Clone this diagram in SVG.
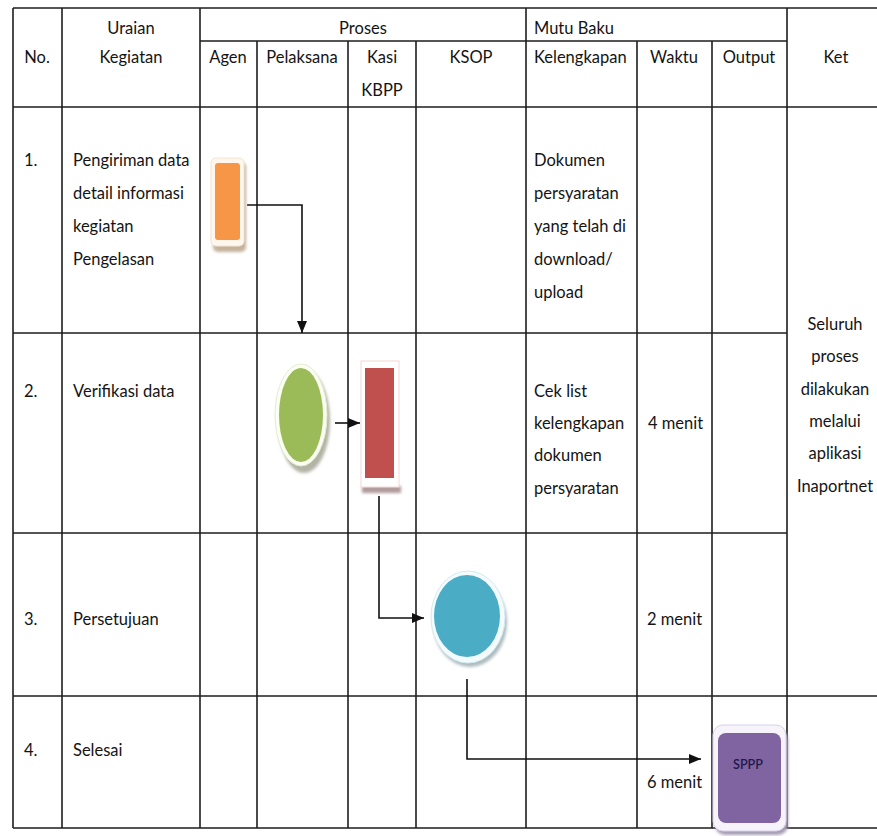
<svg xmlns="http://www.w3.org/2000/svg" width="877" height="836" viewBox="0 0 877 836">
<style>
  .t { font-family: Lato, "Liberation Sans", sans-serif; font-size: 16.5px; fill: #141414; }
  .m { text-anchor: middle; }
  .grid { fill: none; stroke: #1e1e1e; stroke-width: 1.6; }
  .conn { fill: none; stroke: #111; stroke-width: 1.6; }
  .shadow { filter: url(#blur); }
</style>
<defs>
  <filter id="blur" x="-30%" y="-30%" width="160%" height="160%">
    <feGaussianBlur stdDeviation="1.6"/>
  </filter>
  <marker id="arr" markerUnits="userSpaceOnUse" markerWidth="13" markerHeight="10" refX="12" refY="5" orient="auto">
    <path d="M0,0 L12,5 L0,10 z" fill="#111"/>
  </marker>
</defs>
<rect width="877" height="836" fill="#ffffff"/>

<g id="table">
  <path class="grid" d="M13,8 H877 M200,41 H787 M13,107 H877 M13,333 H787 M13,533 H787 M13,696 H877 M13,828 H877
    M13,8 V828 M62,8 V828 M200,8 V828 M257,41 V828 M348,41 V828 M416,41 V828 M526,8 V828 M637,41 V828 M712,41 V828 M787,8 V828"/>
  <g id="header">
    <text class="t m" x="37" y="63">No.</text>
    <text class="t m" x="131" y="34">Uraian</text>
    <text class="t m" x="131" y="63">Kegiatan</text>
    <text class="t m" x="363" y="34">Proses</text>
    <text class="t" x="534" y="34">Mutu Baku</text>
    <text class="t m" x="228" y="63">Agen</text>
    <text class="t m" x="302" y="63">Pelaksana</text>
    <text class="t m" x="382" y="63">Kasi</text>
    <text class="t m" x="382" y="96">KBPP</text>
    <text class="t m" x="471" y="63">KSOP</text>
    <text class="t" x="534" y="63">Kelengkapan</text>
    <text class="t m" x="674" y="63">Waktu</text>
    <text class="t m" x="749" y="63">Output</text>
    <text class="t m" x="836" y="63">Ket</text>
  </g>
  <g id="row1">
    <text class="t" x="24" y="166">1.</text>
    <text class="t" x="73" y="166">Pengiriman data</text>
    <text class="t" x="73" y="199">detail informasi</text>
    <text class="t" x="73" y="232">kegiatan</text>
    <text class="t" x="73" y="265">Pengelasan</text>
    <text class="t" x="534" y="166">Dokumen</text>
    <text class="t" x="534" y="199">persyaratan</text>
    <text class="t" x="534" y="232">yang telah di</text>
    <text class="t" x="534" y="265">download/</text>
    <text class="t" x="534" y="298">upload</text>
  </g>
  <g id="ket">
    <text class="t m" x="835" y="330">Seluruh</text>
    <text class="t m" x="835" y="362">proses</text>
    <text class="t m" x="835" y="395">dilakukan</text>
    <text class="t m" x="835" y="427">melalui</text>
    <text class="t m" x="835" y="459">aplikasi</text>
    <text class="t m" x="835" y="492">Inaportnet</text>
  </g>
  <g id="row2">
    <text class="t" x="24" y="397">2.</text>
    <text class="t" x="73" y="397">Verifikasi data</text>
    <text class="t" x="534" y="397">Cek list</text>
    <text class="t" x="534" y="429">kelengkapan</text>
    <text class="t" x="534" y="461">dokumen</text>
    <text class="t" x="534" y="494">persyaratan</text>
    <text class="t" x="648" y="429">4 menit</text>
  </g>
  <g id="row3">
    <text class="t" x="24" y="625">3.</text>
    <text class="t" x="73" y="625">Persetujuan</text>
    <text class="t" x="647" y="625">2 menit</text>
  </g>
  <g id="row4">
    <text class="t" x="24" y="756">4.</text>
    <text class="t" x="73" y="756">Selesai</text>
    <text class="t" x="647" y="788">6 menit</text>
  </g>
</g>

<g id="connectors">
  <path class="conn" d="M247,205 H302 V333" marker-end="url(#arr)"/>
  <path class="conn" d="M335,423 H360" marker-end="url(#arr)"/>
  <path class="conn" d="M379,496 V618 H424" marker-end="url(#arr)"/>
  <path class="conn" d="M467,679 V759 H701" marker-end="url(#arr)"/>
</g>

<g id="agen-kirim">
  <rect class="shadow" x="213" y="162" width="33" height="90" rx="5" fill="#c4b29c"/>
  <rect x="211" y="158" width="33" height="88" rx="5" fill="#fff7ee" stroke="#f3e4d2"/>
  <rect x="215" y="163" width="25" height="77" rx="3" fill="#F79646"/>
</g>
<g id="pelaksana-verifikasi">
  <ellipse class="shadow" cx="304" cy="421" rx="26" ry="52" fill="#b4b4a6"/>
  <ellipse cx="301" cy="415" rx="26" ry="51" fill="#fbfff2" stroke="#e2ecd0"/>
  <ellipse cx="301" cy="415" rx="22" ry="47" fill="#9BBB59"/>
</g>
<g id="kasi-cek">
  <rect class="shadow" x="362" y="486" width="39" height="7" fill="#b09a9a"/>
  <rect x="361" y="361" width="38" height="126" fill="#ffffff" stroke="#f6d8d8"/>
  <rect x="365" y="368" width="29" height="110" fill="#C0504D"/>
</g>
<g id="ksop-setuju">
  <ellipse class="shadow" cx="470" cy="622" rx="37" ry="45" fill="#adbbc0"/>
  <ellipse cx="468" cy="617" rx="37" ry="46" fill="#f3fbfd" stroke="#d3eaf0"/>
  <ellipse cx="467" cy="616" rx="33" ry="41" fill="#4BACC6"/>
</g>
<g id="output-sppp">
  <rect class="shadow" x="715" y="730" width="73" height="105" rx="10" fill="#a69eb4"/>
  <rect x="713" y="725" width="73" height="106" rx="10" fill="#f6f3fb" stroke="#d9d0ea"/>
  <rect x="718" y="733" width="63" height="90" rx="8" fill="#8064A2"/>
  <text x="748" y="769" text-anchor="middle" font-family="Lato, 'Liberation Sans', sans-serif" font-size="14" font-weight="600" fill="#1e1a4a" textLength="30" lengthAdjust="spacingAndGlyphs">SPPP</text>
</g>
</svg>
